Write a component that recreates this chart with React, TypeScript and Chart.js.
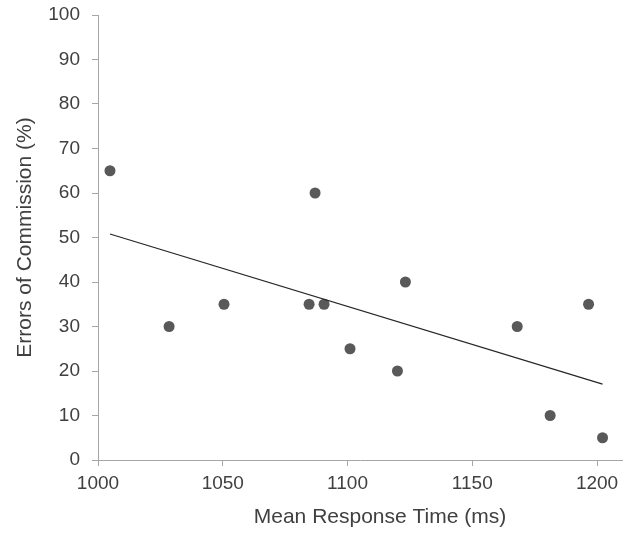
import React, { useEffect, useRef } from "react";
import { Chart, registerables } from "chart.js";

Chart.register(...registerables);

const responseTimes = [1004.8, 1028.5, 1050.5, 1084.6, 1087, 1090.6, 1101, 1120, 1123.2, 1168, 1181.2, 1196.6, 1202.2];
const commissionErrors = [65, 30, 35, 35, 60, 35, 25, 20, 40, 30, 10, 35, 5];
const xTickValues = [1000, 1050, 1100, 1150, 1200];
const yTickValues = [0, 10, 20, 30, 40, 50, 60, 70, 80, 90, 100];
const xTitle = "Mean Response Time (ms)";
const yTitle = "Errors of Commission (%)";

function regression(xs: number[], ys: number[]) {
  const n = xs.length;
  const mx = xs.reduce((a, b) => a + b, 0) / n;
  const my = ys.reduce((a, b) => a + b, 0) / n;
  let sxy = 0, sxx = 0;
  for (let i = 0; i < n; i++) {
    sxy += (xs[i] - mx) * (ys[i] - my);
    sxx += (xs[i] - mx) * (xs[i] - mx);
  }
  const slope = sxy / sxx;
  return { slope, intercept: my - slope * mx };
}

const TEXT = "#404040";
const AXIS = "#a6a6a6";
const FONT = "'Liberation Sans', Arial, sans-serif";

export default function App() {
  const ref = useRef<HTMLCanvasElement>(null);
  useEffect(() => {
    if (!ref.current) return;
    const pts = responseTimes.map((x, i) => ({ x, y: commissionErrors[i] }));
    const { slope, intercept } = regression(responseTimes, commissionErrors);
    const x0 = Math.min(...responseTimes);
    const x1 = Math.max(...responseTimes);
    const trend = [
      { x: x0, y: intercept + slope * x0 },
      { x: x1, y: intercept + slope * x1 },
    ];
    const xTitlePlugin = {
      id: "xTitle",
      afterDraw(chart: any) {
        const { ctx, chartArea } = chart;
        ctx.save();
        ctx.font = `21px ${FONT}`;
        ctx.fillStyle = TEXT;
        ctx.textAlign = "center";
        ctx.textBaseline = "middle";
        ctx.fillText(xTitle, (chartArea.left + chartArea.right) / 2 + 20, 517);
        ctx.restore();
      },
    };
    const chart = new Chart(ref.current, {
      type: "scatter",
      data: {
        datasets: [
          {
            type: "line",
            data: trend,
            borderColor: "#262626",
            borderWidth: 1.2,
            pointRadius: 0,
            fill: false,
          } as any,
          {
            data: pts,
            backgroundColor: "#595959",
            borderColor: "#595959",
            pointRadius: 5.5,
            borderWidth: 0,
          },
        ],
      },
      options: {
        animation: false,
        responsive: false,
        layout: { padding: { left: 0, top: 15, right: 11, bottom: 0 } },
        plugins: { legend: { display: false }, tooltip: { enabled: false } },
        scales: {
          x: {
            type: "linear",
            min: 1000,
            max: 1210,
            afterBuildTicks: (s: any) => {
              s.ticks = xTickValues.map((value) => ({ value }));
            },
            afterFit: (s: any) => {
              s.height = 74;
              s.paddingLeft = 0;
              s.paddingRight = 0;
            },
            ticks: {
              color: TEXT,
              font: { size: 19, family: FONT },
              padding: 6,
              maxRotation: 0,
              autoSkip: false,
              callback: (v: any) => String(v),
            },
            grid: { drawOnChartArea: false, color: AXIS, tickLength: 6, tickColor: AXIS },
            border: { color: AXIS, width: 1 },
          },
          y: {
            min: 0,
            max: 100,
            afterBuildTicks: (s: any) => {
              s.ticks = yTickValues.map((value) => ({ value }));
            },
            afterFit: (s: any) => {
              s.width = 98;
              s.paddingTop = 0;
              s.paddingBottom = 0;
            },
            ticks: {
              color: TEXT,
              font: { size: 19, family: FONT },
              padding: 12,
              autoSkip: false,
              callback: (v: any) => String(v),
            },
            grid: { drawOnChartArea: false, color: AXIS, tickLength: 6, tickColor: AXIS },
            border: { color: AXIS, width: 1 },
            title: {
              display: true,
              text: yTitle,
              color: TEXT,
              font: { size: 21, family: FONT },
              padding: { top: 13, bottom: 0 },
            },
          },
        },
      },
      plugins: [xTitlePlugin],
    });
    return () => chart.destroy();
  }, []);
  return (
    <div style={{ position: "fixed", left: 0, top: 0, width: 633, height: 534, background: "#fff" }}>
      <canvas ref={ref} width={633} height={534} style={{ width: 633, height: 534 }} />
    </div>
  );
}
